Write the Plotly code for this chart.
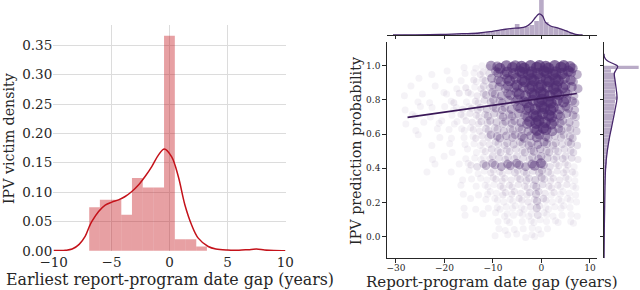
import plotly.graph_objects as go

W, H = 640, 290
FONT = "DejaVu Serif"
TXT = "#262626"

# ---------------- Left panel: histogram + KDE ----------------
HIST_EDGES = [-6.93, -6.01, -5.08, -4.16, -3.24, -2.31, -1.39, -0.47, 0.46, 1.38, 2.31, 3.23]
HIST_DENS = [0.0743, 0.0868, 0.0868, 0.0613, 0.124, 0.1078, 0.1078, 0.3664, 0.0199, 0.0199, 0.0074]

KDE_X = [-10, -9, -8.4, -7.8, -7.27, -6.93, -6.70, -6.12, -5.55, -4.97, -4.40, -3.83, -3.25, -2.68,
         -2.11, -1.53, -0.96, -0.45, 0.19, 0.76, 1.33, 1.91, 2.48, 3.34, 4.0, 5.0, 6.0, 6.8, 7.5, 8.2, 9, 10]
KDE_Y = [0.0005, 0.001, 0.003, 0.011, 0.025, 0.041, 0.050, 0.067, 0.078, 0.083, 0.0868, 0.0925, 0.101, 0.112,
         0.1265, 0.1435, 0.163, 0.1736, 0.160, 0.1265, 0.078, 0.044, 0.0216, 0.0074, 0.003, 0.0012, 0.001,
         0.002, 0.003, 0.0015, 0.0005, 0.0002]

# ---------------- Right panel: joint scatter ----------------
COL_X = list(range(-28, 8))  # 36 columns, 1-year cells
ROW_Y = [0.995, 0.959, 0.917, 0.876, 0.834, 0.793, 0.751, 0.710, 0.669, 0.627, 0.586, 0.544, 0.503,
         0.461, 0.420, 0.379, 0.337, 0.296, 0.254, 0.213, 0.171, 0.130, 0.089, 0.047, 0.006]
# point density per cell (0 = empty ... 9 = saturated), columns x=-28..7
DENSITY_ROWS = [
    "00000000|0000100112|7788889999|99999987",
    "00000100|1000101223|6778889999|99999876",
    "00010000|0100102123|6677888999|99999876",
    "01000010|0010201233|5667788899|99998776",
    "10001000|1102021234|5566778889|99998765",
    "00100100|0120102234|5556677889|99988765",
    "10010010|1011212334|4555667789|99987665",
    "01100100|0102122234|4455566789|99876654",
    "10001001|1011022233|4445556789|99876554",
    "00100010|0101112233|3444455678|98765444",
    "00010001|0010101223|5555556667|76544444",
    "00000100|0100101122|3334444556|65443443",
    "00000000|0010010112|3333333445|54433333",
    "00000100|1000101112|3333333345|54333332",
    "00000010|0001012345|5566666667|75322221",
    "00001000|0100010112|2222333334|43222221",
    "00000000|0000101011|2222223334|43222211",
    "00000000|0001001011|1222222234|32221211",
    "00000000|0000100101|1122222234|32121111",
    "00000000|0000010010|1111122224|32111111",
    "00000000|0000100101|0111111124|21111110",
    "00000000|0000100010|1011111113|11101011",
    "00000000|0000000000|0101101011|11011011",
    "00000000|0000000000|0110101011|01000000",
    "00000000|0000000000|0101010111|10000000",
]
LEVEL_ALPHA = [0, 0.08, 0.14, 0.21, 0.30, 0.41, 0.53, 0.68, 0.85, 0.97]
LEVEL_SIZE = [0, 7, 7, 7.5, 8, 8.5, 9, 10, 11, 11.5]

REG_X = [-27.6, 7.3]
REG_Y = [0.698, 0.838]

# top marginal (x distribution), 1-year bins centred on integers
MX_CENTERS = list(range(-28, 8))
MX_HIST = [0.0010, 0.0010, 0.0014, 0.0014, 0.0014, 0.0019, 0.0024, 0.0029, 0.0033, 0.0043, 0.0048, 0.0057,
           0.0067, 0.0076, 0.0090, 0.0105, 0.0124, 0.0152, 0.0181, 0.0214, 0.0248, 0.0276, 0.0300, 0.0524,
           0.0357, 0.0405, 0.0476, 0.0667, 0.238, 0.0619, 0.0429, 0.0357, 0.0286, 0.0214, 0.0119, 0.0048]
MX_KDE_X = [-30.6, -23.1, -19.7, -16.3, -12.8, -10.1, -8.0, -6.0, -4.6, -3.2, -2.2, -1.2, -0.5, 0.2, 0.9,
            1.9, 3.6, 5.0, 6.4, 7.4, 8.5]
MX_KDE_Y = [0, 0.0014, 0.0033, 0.0062, 0.0095, 0.0176, 0.0252, 0.0319, 0.0333, 0.0395, 0.0557, 0.0843,
            0.1, 0.0919, 0.0586, 0.0429, 0.0319, 0.0205, 0.0081, 0.0014, 0]

# right marginal (y distribution), 0.02 bins from 0 to 1
MY_CENTERS = [round(0.01 + 0.02 * i, 2) for i in range(50)]
MY_HIST = [0.09, 0.09, 0.09, 0.09, 0.09, 0.15, 0.15, 0.15, 0.15, 0.15,
           0.24, 0.24, 0.24, 0.24, 0.24, 0.36, 0.36, 0.36, 0.45, 0.45,
           0.75, 0.9, 0.75, 0.8, 1.0, 1.1, 1.3, 1.4, 1.7, 1.8,
           2.0, 2.2, 2.3, 2.5, 2.6, 2.8, 3.0, 3.1, 3.2, 3.3,
           4.0, 3.4, 3.3, 3.3, 3.3, 3.3, 3.3, 3.3, 2.1, 10.4]
MY_KDE_Y = [1.07, 1.05, 1.03, 1.01, 0.996, 0.975, 0.955, 0.916, 0.858, 0.81, 0.741, 0.643, 0.565, 0.488,
            0.41, 0.292, 0.175, 0.058, -0.126]
MY_KDE_X = [0.0, 0.15, 0.9, 3.0, 4.1, 3.6, 3.1, 3.3, 3.7, 3.9, 3.3, 2.3, 1.5, 0.9, 0.5, 0.3, 0.2, 0.1, 0.02]

RED = (196, 18, 26)
PUR = (80, 45, 115)


def rgba(c, a):
    return "rgba(%d,%d,%d,%.3f)" % (c[0], c[1], c[2], a)


def px_x(p):
    return p / W


def px_y(p):
    return 1 - p / H


fig = go.Figure()

# left histogram
centers = [(HIST_EDGES[i] + HIST_EDGES[i + 1]) / 2 for i in range(len(HIST_DENS))]
widths = [HIST_EDGES[i + 1] - HIST_EDGES[i] for i in range(len(HIST_DENS))]
fig.add_trace(go.Bar(x=centers, y=HIST_DENS, width=widths, marker=dict(color=rgba(RED, 0.4), line=dict(width=0)),
                     xaxis="x", yaxis="y", hoverinfo="skip"))
fig.add_trace(go.Scatter(x=KDE_X, y=KDE_Y, mode="lines", line=dict(color=rgba(RED, 1), width=1.5, shape="spline"),
                         xaxis="x", yaxis="y", hoverinfo="skip"))

# scatter cells (small fixed offsets inside each cell break the lattice look)
sx, sy, sc, ss = [], [], [], []
for r, row in enumerate(DENSITY_ROWS):
    digits = row.replace("|", "")
    assert len(digits) == len(COL_X)
    shift = -0.25 if r % 2 == 0 else 0.25
    for c, d in enumerate(digits):
        lv = int(d)
        if lv == 0:
            continue
        dx = (((c * 7 + r * 3) % 5) - 2) * 0.15
        dy = (((c * 3 + r * 5) % 5) - 2) * 0.005
        sx.append(COL_X[c] + shift + dx)
        sy.append(min(ROW_Y[r] + dy, 1.0))
        sc.append(rgba(PUR, LEVEL_ALPHA[lv]))
        ss.append(LEVEL_SIZE[lv])
fig.add_trace(go.Scatter(x=sx, y=sy, mode="markers", marker=dict(size=ss, color=sc, line=dict(width=0)),
                         xaxis="x2", yaxis="y2", hoverinfo="skip"))
fig.add_trace(go.Scatter(x=REG_X, y=REG_Y, mode="lines", line=dict(color="rgb(58,24,88)", width=1.6),
                         xaxis="x2", yaxis="y2", hoverinfo="skip"))

# marginals
fig.add_trace(go.Bar(x=MX_CENTERS, y=MX_HIST, width=0.95, marker=dict(color=rgba(PUR, 0.4), line=dict(width=0)),
                     xaxis="x3", yaxis="y3", hoverinfo="skip"))
fig.add_trace(go.Scatter(x=MX_KDE_X, y=MX_KDE_Y, mode="lines", line=dict(color="rgb(72,40,108)", width=1.3, shape="spline"),
                         xaxis="x3", yaxis="y3", hoverinfo="skip"))
fig.add_trace(go.Bar(y=MY_CENTERS, x=MY_HIST, width=0.019, orientation="h",
                     marker=dict(color=rgba(PUR, 0.4), line=dict(width=0)),
                     xaxis="x4", yaxis="y4", hoverinfo="skip"))
fig.add_trace(go.Scatter(x=MY_KDE_X, y=MY_KDE_Y, mode="lines", line=dict(color="rgb(72,40,108)", width=1.3, shape="spline"),
                         xaxis="x4", yaxis="y4", hoverinfo="skip"))

grid = "#dcdcdc"
main_x_dom = [px_x(386.7), px_x(596.7)]
main_y_dom = [px_y(258.3), px_y(42.3)]
XR = [-31.9, 11.4]
YR = [-0.126, 1.137]
spine = dict(showline=True, linecolor=TXT, linewidth=0.9, ticks="outside", ticklen=3.5, tickwidth=0.9,
             tickcolor=TXT, showgrid=False, zeroline=False, automargin=False)

fig.update_layout(
    template="none",
    width=W, height=H, margin=dict(l=0, r=0, t=0, b=0, pad=0),
    paper_bgcolor="white", plot_bgcolor="rgba(0,0,0,0)",
    showlegend=False, font=dict(family=FONT, color=TXT),
    xaxis=dict(domain=[px_x(53.3), px_x(285.7)], range=[-10.03, 10.03], tickvals=[-10, -5, 0, 5, 10],
               showgrid=True, gridcolor=grid, gridwidth=1, zeroline=False, showline=False, ticks="",
               tickfont=dict(size=13.5), ticklabelstandoff=1, anchor="y", automargin=False),
    yaxis=dict(domain=[px_y(251), px_y(25)], range=[-0.0003, 0.3846],
               tickvals=[0, 0.05, 0.1, 0.15, 0.2, 0.25, 0.3, 0.35], tickformat=".2f",
               showgrid=True, gridcolor=grid, gridwidth=1, zeroline=False, showline=False, ticks="",
               tickfont=dict(size=13.5), anchor="x", automargin=False),
    xaxis2=dict(domain=main_x_dom, range=XR, tickvals=[-30, -20, -10, 0, 10], tickfont=dict(size=9),
                ticklabelstandoff=-3, anchor="y2", **spine),
    yaxis2=dict(domain=main_y_dom, range=YR, tickvals=[0, 0.2, 0.4, 0.6, 0.8, 1.0], tickformat=".1f",
                tickfont=dict(size=9), anchor="x2", **spine),
    xaxis3=dict(domain=main_x_dom, range=XR, tickvals=[-30, -20, -10, 0, 10], showticklabels=False,
                anchor="y3", **spine),
    yaxis3=dict(domain=[px_y(35), 1], range=[0, 0.1667], visible=False, anchor="x3", automargin=False),
    xaxis4=dict(domain=[px_x(604), 1], range=[0, 10.8], visible=False, anchor="y4", automargin=False),
    yaxis4=dict(domain=main_y_dom, range=YR, tickvals=[0, 0.2, 0.4, 0.6, 0.8, 1.0], showticklabels=False,
                anchor="x4", **spine),
)

ann = [
    dict(text="IPV victim density", x=px_x(9), y=px_y(139), textangle=-90, size=14.2),
    dict(text="Earliest report-program date gap (years)", x=px_x(170), y=px_y(279), textangle=0, size=15.8),
    dict(text="IPV prediction probability", x=px_x(356), y=px_y(151), textangle=-90, size=14.3),
    dict(text="Report-program date gap (years)", x=px_x(492), y=px_y(281.5), textangle=0, size=15),
]
for a in ann:
    fig.add_annotation(text=a["text"], x=a["x"], y=a["y"], xref="paper", yref="paper", showarrow=False,
                       xanchor="center", yanchor="middle", textangle=a["textangle"],
                       font=dict(family=FONT, size=a["size"], color=TXT))

fig.write_html("out.html", config={"displayModeBar": False},
               post_script="document.body.style.margin='0';document.body.style.padding='0';")
